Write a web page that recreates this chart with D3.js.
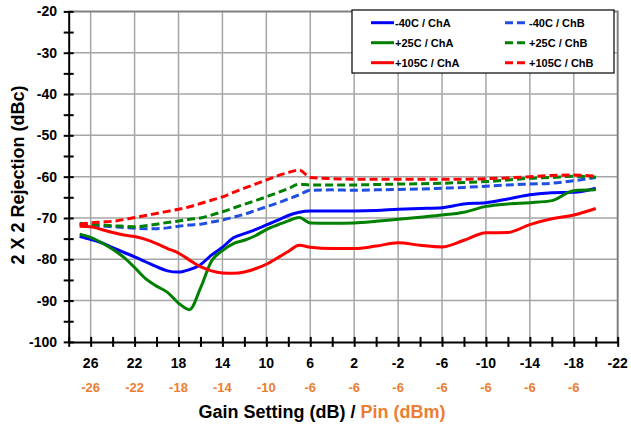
<!DOCTYPE html>
<html>
<head>
<meta charset="utf-8">
<script src="https://cdn.jsdelivr.net/npm/d3@7"></script>
<style>
  html, body { margin: 0; padding: 0; background: #fff; }
  svg { display: block; font-family: "Liberation Sans", Arial, sans-serif; }
</style>
</head>
<body>
<svg id="chart" width="631" height="425"></svg>
<script>
// ---------- data ----------
const gain = [27, 26, 25, 24, 23, 22, 21, 20, 19, 18, 17, 16, 15, 14, 13, 12, 11, 10, 9, 8, 7, 6, 4, 2, 0, -2, -4, -6, -8, -10, -12, -14, -16, -18, -20];

const m40ChA = [-74.5, -75.2, -76.0, -77.2, -78.3, -79.4, -80.6, -81.8, -82.8, -83.1, -82.5, -81.3, -79.0, -77.1, -74.8, -73.8, -72.8, -71.7, -70.6, -69.4, -68.6, -68.3, -68.3, -68.3, -68.2, -67.9, -67.7, -67.5, -66.6, -66.3, -65.4, -64.4, -63.9, -63.8, -62.8];
const p25ChA = [-73.9, -74.7, -76.0, -77.6, -79.5, -82.0, -84.7, -86.5, -88.0, -90.6, -92.2, -87.0, -80.5, -77.9, -76.2, -75.4, -74.3, -72.8, -71.7, -70.7, -69.9, -71.2, -71.3, -71.2, -70.8, -70.3, -69.8, -69.3, -68.6, -67.2, -66.6, -66.3, -65.8, -63.4, -63.2];
const p105ChA = [-72.0, -72.1, -72.8, -73.5, -74.1, -74.5, -75.2, -76.2, -77.4, -78.5, -80.2, -81.8, -82.8, -83.3, -83.4, -83.1, -82.3, -81.2, -79.7, -78.1, -76.6, -77.1, -77.4, -77.4, -76.8, -76.0, -76.6, -77.0, -75.4, -73.6, -73.5, -71.6, -70.2, -69.3, -67.7];
const m40ChB = [-71.7, -71.9, -72.0, -72.1, -72.3, -72.5, -72.6, -72.6, -72.4, -72.0, -71.7, -71.5, -71.0, -70.5, -69.8, -69.1, -68.2, -67.3, -66.4, -65.4, -64.4, -63.3, -63.2, -63.3, -63.2, -63.1, -63.0, -62.8, -62.6, -62.3, -62.0, -61.8, -61.6, -61.0, -60.2];
const p25ChB = [-71.3, -71.5, -71.7, -71.9, -72.0, -72.1, -71.9, -71.5, -71.1, -70.75, -70.3, -70.0, -69.3, -68.5, -67.6, -66.7, -65.8, -64.9, -63.9, -62.9, -61.8, -62.0, -62.0, -62.0, -61.9, -61.8, -61.7, -61.6, -61.4, -61.2, -60.8, -60.4, -60.2, -59.9, -60.1];
const p105ChB = [-71.5, -71.2, -71.0, -70.8, -70.4, -69.9, -69.4, -68.9, -68.4, -67.9, -67.3, -66.5, -65.7, -64.9, -63.8, -62.8, -61.8, -60.8, -59.8, -59.0, -58.4, -60.2, -60.5, -60.6, -60.6, -60.6, -60.6, -60.6, -60.6, -60.5, -60.3, -60.0, -59.7, -59.6, -59.9];

const seriesNames = ["-40C / ChA", "-40C / ChB", "+25C / ChA", "+25C / ChB", "+105C / ChA", "+105C / ChB"];
const xTickLabels = [26, 22, 18, 14, 10, 6, 2, -2, -6, -10, -14, -18, -22];
const pinLabels = [-26, -22, -18, -14, -10, -6, -6, -6, -6, -6, -6, -6];
const yTickLabels = [-20, -30, -40, -50, -60, -70, -80, -90, -100];

// ---------- styling ----------
const series = [
  { name: seriesNames[0], values: m40ChA, color: "#0000FF", dash: null },
  { name: seriesNames[1], values: m40ChB, color: "#1F4FE0", dash: "8,4" },
  { name: seriesNames[2], values: p25ChA, color: "#008000", dash: null },
  { name: seriesNames[3], values: p25ChB, color: "#008000", dash: "8,4" },
  { name: seriesNames[4], values: p105ChA, color: "#FF0000", dash: null },
  { name: seriesNames[5], values: p105ChB, color: "#FF0000", dash: "8,4" }
];
const orange = "#ED7D31";

const svg = d3.select("#chart");
const x = d3.scaleLinear().domain([28, -22]).range([68.7, 617.7]);
const y = d3.scaleLinear().domain([-20, -100]).range([11.4, 341.9]);

// gridlines
const grid = svg.append("g");
grid.selectAll("line.v").data(xTickLabels.slice(0, -1)).join("line")
  .attr("x1", d => x(d)).attr("x2", d => x(d))
  .attr("y1", y(-20)).attr("y2", y(-100))
  .attr("stroke", "#A6A6A6").attr("stroke-width", 1.5);
grid.selectAll("line.h").data(yTickLabels.slice(1, -1)).join("line")
  .attr("x1", x(28)).attr("x2", x(-22))
  .attr("y1", d => y(d)).attr("y2", d => y(d))
  .attr("stroke", "#A6A6A6").attr("stroke-width", 1.5);
// top and right border
svg.append("path")
  .attr("d", `M${x(28)},${y(-20)}H${x(-22)}V${y(-100)}`)
  .attr("fill", "none").attr("stroke", "#808080").attr("stroke-width", 2);

// lines
const line = d3.line().x((d, i) => x(gain[i])).y(d => y(d)).curve(d3.curveMonotoneX);
svg.append("g").selectAll("path").data(series).join("path")
  .attr("d", d => line(d.values))
  .attr("fill", "none")
  .attr("stroke", d => d.color)
  .attr("stroke-width", 3)
  .attr("stroke-dasharray", d => d.dash);

// axes
const xAxisG = svg.append("g").attr("transform", `translate(0,${y(-100)})`)
  .call(d3.axisBottom(x).tickValues(d3.range(28, -23, -2)).tickSize(0).tickFormat(""));
xAxisG.select(".domain").attr("stroke", "#000").attr("stroke-width", 2);
xAxisG.selectAll(".tick line").attr("y1", -5).attr("y2", 5).attr("stroke", "#000").attr("stroke-width", 2);

const yAxisG = svg.append("g").attr("transform", `translate(${x(28)},0)`)
  .call(d3.axisLeft(y).tickValues(d3.range(-20, -101, -5)).tickSize(0).tickFormat(""));
yAxisG.select(".domain").attr("stroke", "#000").attr("stroke-width", 2);
yAxisG.selectAll(".tick line").attr("x1", -5).attr("x2", 5).attr("stroke", "#000").attr("stroke-width", 2);

// y tick labels
svg.append("g").selectAll("text").data(yTickLabels).join("text")
  .attr("x", 57).attr("y", d => y(d)).attr("dy", "0.36em")
  .attr("text-anchor", "end").attr("font-size", 14).attr("font-weight", "bold")
  .text(d => d);

// x tick labels
svg.append("g").selectAll("text").data(xTickLabels).join("text")
  .attr("x", d => x(d)).attr("y", 368)
  .attr("text-anchor", "middle").attr("font-size", 14).attr("font-weight", "bold")
  .text(d => d);
svg.append("g").selectAll("text").data(pinLabels).join("text")
  .attr("x", (d, i) => x(xTickLabels[i])).attr("y", 392)
  .attr("text-anchor", "middle").attr("font-size", 13).attr("font-weight", "bold")
  .attr("fill", orange)
  .text(d => d);

// axis titles
const xt = svg.append("text").attr("x", 322).attr("y", 418)
  .attr("text-anchor", "middle").attr("font-size", 18).attr("font-weight", "bold");
xt.append("tspan").text("Gain Setting (dB) / ");
xt.append("tspan").attr("fill", orange).text("Pin (dBm)");

svg.append("text")
  .attr("transform", `translate(24,${175}) rotate(-90)`)
  .attr("text-anchor", "middle").attr("font-size", 18).attr("font-weight", "bold")
  .text("2 X 2 Rejection (dBc)");

// legend
const lg = svg.append("g");
lg.append("rect").attr("x", 352).attr("y", 10).attr("width", 262).attr("height", 63)
  .attr("fill", "#fff").attr("stroke", "#000").attr("stroke-width", 1.2);
const legendPos = [
  [371, 22.7], [505, 22.7],
  [371, 42.7], [505, 42.7],
  [371, 62.7], [505, 62.7]
];
series.forEach((s, i) => {
  const [lx, ly] = legendPos[i];
  lg.append("line").attr("x1", lx).attr("x2", lx + 23).attr("y1", ly).attr("y2", ly)
    .attr("stroke", s.color).attr("stroke-width", 3).attr("stroke-dasharray", s.dash);
  lg.append("text").attr("x", lx + 24).attr("y", ly).attr("dy", "0.36em")
    .attr("font-size", 11).attr("font-weight", "bold").text(s.name);
});
</script>
</body>
</html>
